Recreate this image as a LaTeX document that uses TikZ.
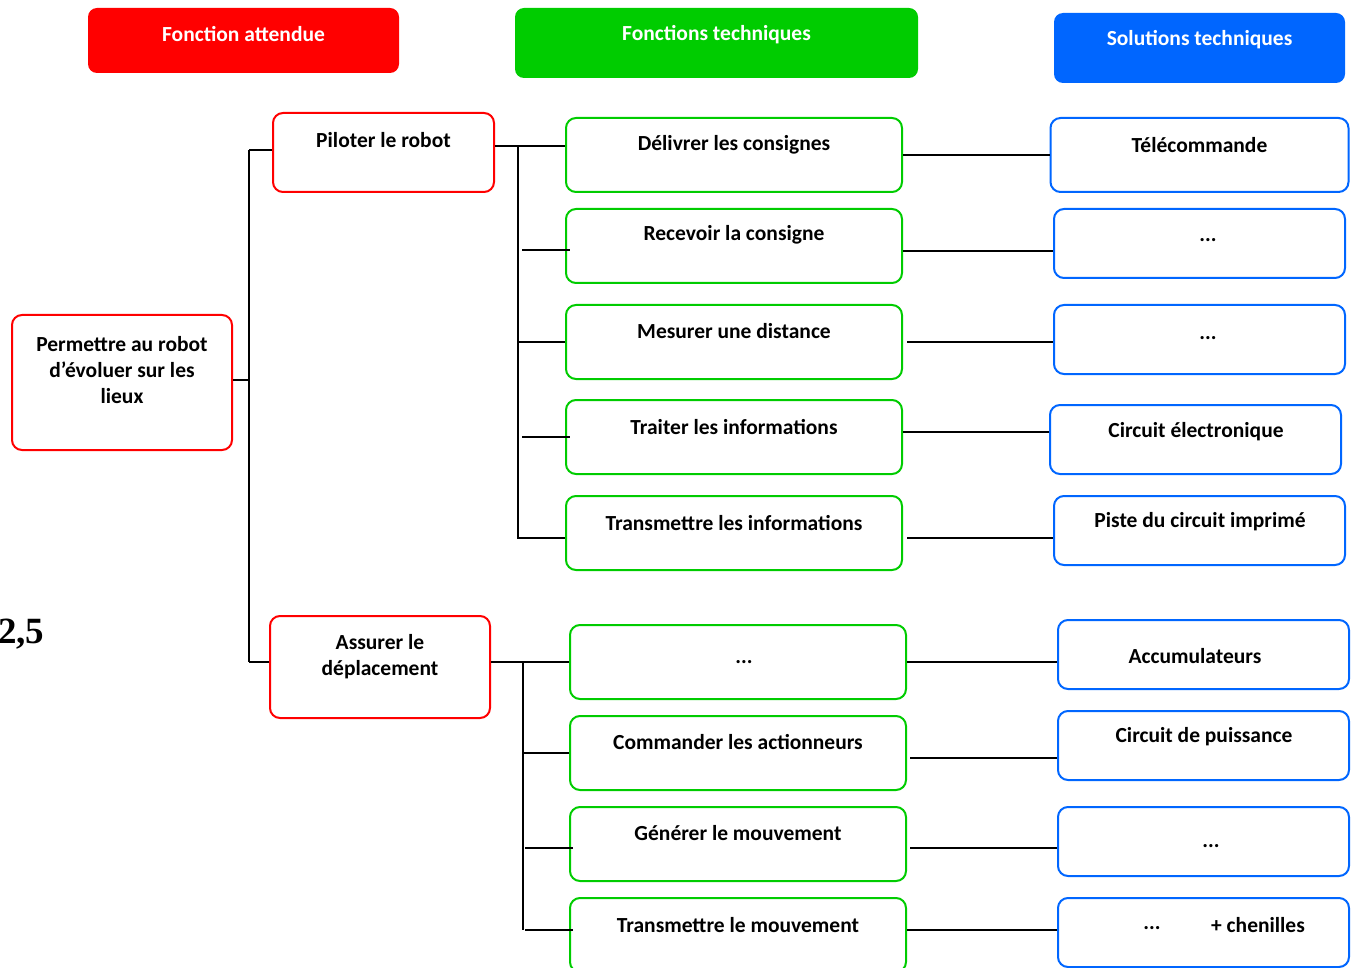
\documentclass[tikz,border=0pt]{standalone}
\usepackage{fontspec}
\setmainfont{Carlito}
\newfontfamily\serifb{Liberation Serif}
\definecolor{cred}{HTML}{FF0000}
\definecolor{cgreen}{HTML}{00CC00}
\definecolor{cblue}{HTML}{0066FF}
\begin{document}
\begin{tikzpicture}[x=1pt,y=-1pt,
  base/.style={rounded corners=10pt,line width=2pt,inner sep=0pt},
  rbox/.style={base,draw=cred,fill=white},
  gbox/.style={base,draw=cgreen,fill=white},
  bbox/.style={base,draw=cblue,fill=white},
  hdr/.style={rounded corners=9pt,inner sep=0pt},
  txt/.style={font=\fontsize{21.5}{26}\selectfont\bfseries,align=center,inner sep=0pt,text=black},
  wtxt/.style={font=\fontsize{21.5}{26}\selectfont\bfseries,align=center,inner sep=0pt,text=white},
  ln/.style={line width=2pt,black}]
\useasboundingbox (0,0) rectangle (1352,968);
% headers
\node[hdr,fill=cred,minimum width=311,minimum height=65] (h1) at (243.5,40.5) {};
\node[wtxt] (h1t) at (243.5,34) {Fonction attendue};
\node[hdr,fill=cgreen,minimum width=403,minimum height=70] (h2) at (716.5,43) {};
\node[wtxt] (h2t) at (716.5,35) {Fonctions techniques};
\node[hdr,fill=cblue,minimum width=291,minimum height=70] (h3) at (1199.5,48) {};
\node[wtxt] (h3t) at (1199.5,40) {Solutions techniques};
% red boxes
\node[rbox,minimum width=220,minimum height=135] (fp) at (122,382.5) {};
\node[txt] (fpt) at (122,370) {Permettre au robot\\d’évoluer sur les\\lieux};
\node[rbox,minimum width=221,minimum height=79] (pil) at (383.5,152.5) {};
\node[txt] (pilt) at (383.5,140) {Piloter le robot};
\node[rbox,minimum width=220,minimum height=102] (ass) at (380,667) {};
\node[txt] (asst) at (380,657) {Assurer le\\déplacement};
% green boxes group 1
\node[gbox,minimum width=336,minimum height=74] (g1) at (734,155) {};
\node[txt] at (734,145) {Délivrer les consignes};
\node[gbox,minimum width=336,minimum height=74] (g2) at (734,246) {};
\node[txt] at (734,235) {Recevoir la consigne};
\node[gbox,minimum width=336,minimum height=74] (g3) at (734,342) {};
\node[txt] at (734,331) {Mesurer une distance};
\node[gbox,minimum width=336,minimum height=74] (g4) at (734,437) {};
\node[txt] at (734,427) {Traiter les informations};
\node[gbox,minimum width=336,minimum height=74] (g5) at (734,533) {};
\node[txt] at (734,523) {Transmettre les informations};
% green boxes group 2
\node[gbox,minimum width=336,minimum height=74] (g6) at (738,662) {};
\node[txt] at (744,662) {...};
\node[gbox,minimum width=336,minimum height=74] (g7) at (738,753) {};
\node[txt] at (738,742) {Commander les actionneurs};
\node[gbox,minimum width=336,minimum height=74] (g8) at (738,844) {};
\node[txt] at (738,833) {Générer le mouvement};
\node[gbox,minimum width=336,minimum height=74] (g9) at (738,935) {};
\node[txt] at (738,925) {Transmettre le mouvement};
% blue boxes
\node[bbox,minimum width=298,minimum height=74] (b1) at (1199.5,155) {};
\node[txt] at (1199.5,145) {Télécommande};
\node[bbox,minimum width=291,minimum height=69] (b2) at (1199.5,243.5) {};
\node[txt] at (1208,240) {...};
\node[bbox,minimum width=291,minimum height=69] (b3) at (1199.5,339.5) {};
\node[txt] at (1208,338) {...};
\node[bbox,minimum width=291,minimum height=69] (b4) at (1195.5,439.5) {};
\node[txt] at (1196,432) {Circuit électronique};
\node[bbox,minimum width=291,minimum height=69] (b5) at (1199.5,530.5) {};
\node[txt] at (1200,522) {Piste du circuit imprimé};
\node[bbox,minimum width=291,minimum height=69] (b6) at (1203.5,654.5) {};
\node[txt] at (1195,656) {Accumulateurs};
\node[bbox,minimum width=291,minimum height=69] (b7) at (1203.5,745.5) {};
\node[txt] at (1204,737) {Circuit de puissance};
\node[bbox,minimum width=291,minimum height=69] (b8) at (1203.5,841.5) {};
\node[txt] at (1211,846) {...};
\node[bbox,minimum width=291,minimum height=69] (b9) at (1203.5,932.5) {};
\node[txt] at (1152,928) {...};
\node[txt] at (1258,925) {+ chenilles};
% score
\node[font=\serifb\fontsize{37}{40}\selectfont\bfseries,anchor=west,inner sep=0pt] (sc) at (-2,634) {2,5};
% coordinates for connectors
\coordinate (v1t) at (249,150);
\coordinate (v1b) at (249,662);
\coordinate (v2t) at (518,146);
\coordinate (v3t) at (523,662);
\coordinate (v3b) at (523,930);
% main tree
\draw[ln] (fp.east |- 0,380) -- (249,380);
\draw[ln] (v1t) -- (v1b);
\draw[ln] (v1t) -- (pil.west |- v1t);
\draw[ln] (v1b) -- (ass.west |- v1b);
% Piloter branch
\draw[ln] (pil.east |- v2t) -- (g1.west |- v2t);
\draw[ln] (v2t) -- (518,538);
\draw[ln] (522,250) -- (570,250);
\draw[ln] (518,342) -- (g3.west |- 0,342);
\draw[ln] (522,437) -- (570,437);
\draw[ln] (517,538) -- (g5.west |- 0,538);
% Assurer branch
\draw[ln] (ass.east |- v3t) -- (g6.west |- v3t);
\draw[ln] (v3t) -- (v3b);
\draw[ln] (523,753) -- (g7.west |- 0,753);
\draw[ln] (525,848) -- (573,848);
\draw[ln] (525,930) -- (573,930);
% green-blue links
\draw[ln] (g1.east |- 0,155) -- (b1.west |- 0,155);
\draw[ln] (g2.east |- 0,251) -- (b2.west |- 0,251);
\draw[ln] (907,342) -- (b3.west |- 0,342);
\draw[ln] (g4.east |- 0,432) -- (b4.west |- 0,432);
\draw[ln] (907,538) -- (b5.west |- 0,538);
\draw[ln] (g6.east |- 0,662) -- (b6.west |- 0,662);
\draw[ln] (910,758) -- (b7.west |- 0,758);
\draw[ln] (910,848) -- (b8.west |- 0,848);
\draw[ln] (g9.east |- 0,930) -- (b9.west |- 0,930);
\end{tikzpicture}
\end{document}
